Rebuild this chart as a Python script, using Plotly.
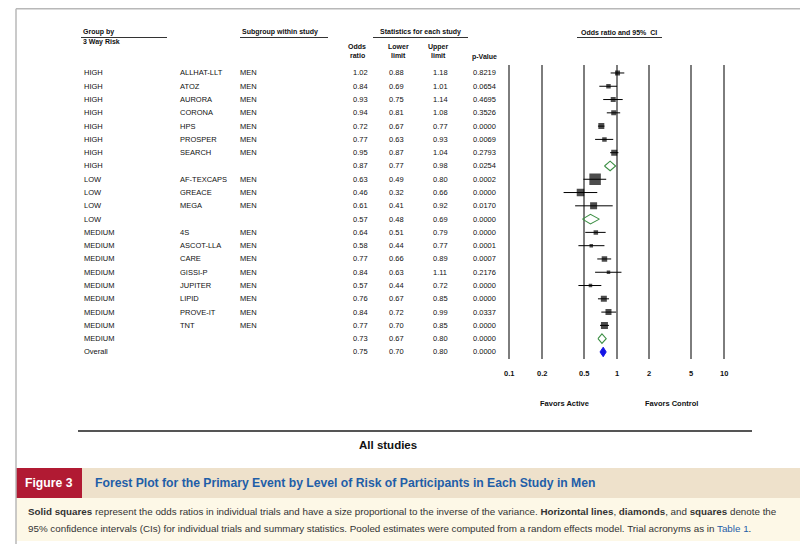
import numpy as np
import plotly.graph_objects as go

# ---------------- data ----------------
groups = ["HIGH"] * 8 + ["LOW"] * 4 + ["MEDIUM"] * 9 + ["Overall"]
studies = ["ALLHAT-LLT", "ATOZ", "AURORA", "CORONA", "HPS", "PROSPER", "SEARCH", "",
           "AF-TEXCAPS", "GREACE", "MEGA", "",
           "4S", "ASCOT-LLA", "CARE", "GISSI-P", "JUPITER", "LIPID", "PROVE-IT", "TNT", "",
           ""]
subgroups = ["MEN" if s else "" for s in studies]
odds_ratio = [1.02, 0.84, 0.93, 0.94, 0.72, 0.77, 0.95, 0.87,
              0.63, 0.46, 0.61, 0.57,
              0.64, 0.58, 0.77, 0.84, 0.57, 0.76, 0.84, 0.77, 0.73,
              0.75]
lower_limit = [0.88, 0.69, 0.75, 0.81, 0.67, 0.63, 0.87, 0.77,
               0.49, 0.32, 0.41, 0.48,
               0.51, 0.44, 0.66, 0.63, 0.44, 0.67, 0.72, 0.70, 0.67,
               0.70]
upper_limit = [1.18, 1.01, 1.14, 1.08, 0.77, 0.93, 1.04, 0.98,
               0.80, 0.66, 0.92, 0.69,
               0.79, 0.77, 0.89, 1.11, 0.72, 0.85, 0.99, 0.85, 0.80,
               0.80]
p_values = ["0.8219", "0.0654", "0.4695", "0.3526", "0.0000", "0.0069", "0.2793", "0.0254",
            "0.0002", "0.0000", "0.0170", "0.0000",
            "0.0000", "0.0001", "0.0007", "0.2176", "0.0000", "0.0000", "0.0337", "0.0000", "0.0000",
            "0.0000"]
row_kind = (["study"] * 7 + ["summary"] + ["study"] * 3 + ["summary"]
            + ["study"] * 8 + ["summary"] + ["overall"])
axis_ticks = [0.1, 0.2, 0.5, 1, 2, 5, 10]
axis_tick_labels = ["0.1", "0.2", "0.5", "1", "2", "5", "10"]

# ---------------- style ----------------
square_px_by_study = {
    "ALLHAT-LLT": 5, "ATOZ": 4.5, "AURORA": 5, "CORONA": 5, "HPS": 6, "PROSPER": 4.5,
    "SEARCH": 6, "AF-TEXCAPS": 11.5, "GREACE": 7.5, "MEGA": 7, "4S": 4.5, "ASCOT-LLA": 3.5,
    "CARE": 5.5, "GISSI-P": 3.5, "JUPITER": 3.5, "LIPID": 6, "PROVE-IT": 6, "TNT": 7,
}
OFF = 8                      # page body margin
W, H = 808 - OFF, 544 - OFF  # figure size
FONT = "Liberation Sans, Arial, sans-serif"


def fx(x):
    """reference pixel x -> paper"""
    return (x - OFF) / W


def fy(y):
    """reference pixel y -> paper"""
    return 1 - (y - OFF) / H


n = len(odds_ratio)
rows = list(range(n))

fig = go.Figure()

# CI lines for individual studies
ci_x, ci_y = [], []
for i in rows:
    if row_kind[i] == "study":
        ci_x += [lower_limit[i], upper_limit[i], None]
        ci_y += [i, i, None]
fig.add_trace(go.Scatter(x=ci_x, y=ci_y, mode="lines",
                         line=dict(color="black", width=1), hoverinfo="skip"))

# squares
sq_idx = [i for i in rows if row_kind[i] == "study"]
fig.add_trace(go.Scatter(
    x=[odds_ratio[i] for i in sq_idx], y=sq_idx, mode="markers",
    marker=dict(symbol="square", color="black",
                size=[square_px_by_study[studies[i]] for i in sq_idx],
                line=dict(width=0)),
    text=[studies[i] for i in sq_idx]))

# diamonds
half_h = 0.36
for i in rows:
    if row_kind[i] in ("summary", "overall"):
        xs = [lower_limit[i], odds_ratio[i], upper_limit[i], odds_ratio[i], lower_limit[i]]
        ys = [i, i - half_h, i, i + half_h, i]
        if row_kind[i] == "summary":
            fig.add_trace(go.Scatter(x=xs, y=ys, mode="lines",
                                     line=dict(color="#3d8f45", width=1.1),
                                     hoverinfo="skip"))
        else:
            fig.add_trace(go.Scatter(x=xs, y=ys, mode="lines", fill="toself",
                                     fillcolor="#1414e6",
                                     line=dict(color="#1414e6", width=1),
                                     hoverinfo="skip"))

annotations = []


def text(x, y, s, size=7.5, anchor="left", color="#111", xref="paper", yref="paper", bold=False):
    if bold:
        s = "<b>" + s + "</b>"
    annotations.append(dict(x=x, y=y, xref=xref, yref=yref, text=s, showarrow=False,
                            xanchor=anchor, yanchor="middle",
                            font=dict(family=FONT, size=size, color=color)))


# table rows
for i in rows:
    text(fx(82), i, groups[i], yref="y")
    if studies[i]:
        text(fx(178), i, studies[i], yref="y")
        text(fx(238), i, subgroups[i], yref="y")
    text(fx(360), i, f"{odds_ratio[i]:.2f}", anchor="center", yref="y")
    text(fx(396), i, f"{lower_limit[i]:.2f}", anchor="center", yref="y")
    text(fx(440), i, f"{upper_limit[i]:.2f}", anchor="center", yref="y")
    text(fx(485), i, p_values[i], anchor="center", yref="y")

# headers
text(fx(81), fy(32), "Group by", size=7, bold=True)
text(fx(81), fy(42), "3 Way Risk", size=7, bold=True)
text(fx(240), fy(32), "Subgroup within study", size=7, bold=True)
text(fx(420), fy(32), "Statistics for each study", size=7, anchor="center", bold=True)
text(fx(619), fy(32), "Odds ratio and 95%  CI", size=7, anchor="center", bold=True)
text(fx(357), fy(47), "Odds", size=7, anchor="center", bold=True)
text(fx(357), fy(55), "ratio", size=7, anchor="center", bold=True)
text(fx(398), fy(47), "Lower", size=7, anchor="center", bold=True)
text(fx(398), fy(55), "limit", size=7, anchor="center", bold=True)
text(fx(438), fy(47), "Upper", size=7, anchor="center", bold=True)
text(fx(438), fy(55), "limit", size=7, anchor="center", bold=True)
text(fx(484), fy(57), "p-Value", size=7, anchor="center", bold=True)

# axis tick labels
for t, lab in zip(axis_ticks, axis_tick_labels):
    text(np.log10(t), fy(373), lab, size=7.5, anchor="center", xref="x", bold=True)

text(fx(564), fy(403), "Favors Active", size=7.5, anchor="center", bold=True)
text(fx(671), fy(403), "Favors Control", size=7.5, anchor="center", bold=True)
text(fx(388), fy(445), "All studies", size=11.5, anchor="center", bold=True)

# figure caption
text(fx(49), fy(483), "Figure 3", size=12.2, anchor="center", color="white", bold=True)
text(fx(93), fy(483),
     "Forest Plot for the Primary Event by Level of Risk of Participants in Each Study in Men",
     size=12.2, color="#1f5ea8", bold=True)
text(fx(26), fy(511),
     "<b>Solid squares</b> represent the odds ratios in individual trials and have a size "
     "proportional to the inverse of the variance. <b>Horizontal lines</b>, <b>diamonds</b>, "
     "and <b>squares</b> denote the", size=9.8, color="#333")
text(fx(26), fy(528),
     "95% confidence intervals (CIs) for individual trials and summary statistics. Pooled "
     "estimates were computed from a random effects model. Trial acronyms as in "
     "<span style='color:#1f5ea8'>Table 1</span>.", size=9.8, color="#333")

shapes = []


def line(x0, y0, x1, y1, color="#333", width=1):
    shapes.append(dict(type="line", xref="paper", yref="paper",
                       x0=fx(x0), y0=fy(y0), x1=fx(x1), y1=fy(y1),
                       line=dict(color=color, width=width)))


def rect(x0, y0, x1, y1, fill):
    shapes.append(dict(type="rect", xref="paper", yref="paper", layer="below",
                       x0=fx(x0), y0=fy(y0), x1=fx(x1), y1=fy(y1),
                       fillcolor=fill, line=dict(width=0)))


rect(16, 468, 812, 498, "#eee1cb")
rect(16, 468, 82, 498, "#b11a33")
rect(16, 498, 812, 541, "#fdf8e7")
line(16, 8.8, 812, 8.8, color="#b8b8b8", width=1.5)
line(16, 8.8, 16, 548, color="#b8b8b8", width=1.5)
line(81, 37.5, 167, 37.5)
line(240, 37.5, 328, 37.5)
line(373, 37.5, 468, 37.5)
line(577, 37.5, 662, 37.5)
line(78, 431, 752, 431, color="#555", width=2)

pad = 0.02
x_left = 509.5 - pad * 107.1
x_right = 723.7 + pad * 107.1
fig.update_layout(
    width=W, height=H, autosize=False,
    margin=dict(l=0, r=0, t=0, b=0),
    paper_bgcolor="white", plot_bgcolor="white",
    showlegend=False,
    xaxis=dict(type="log", range=[-1 - pad, 1 + pad], domain=[fx(x_left), fx(x_right)],
               tickvals=axis_ticks, showticklabels=False, ticks="",
               showgrid=True, gridcolor="#7d7d7d", gridwidth=1.6,
               showline=False, zeroline=False, fixedrange=True),
    yaxis=dict(range=[21.53, -0.60], domain=[fy(359), fy(65)], visible=False,
               fixedrange=True),
    annotations=annotations, shapes=shapes,
)

fig.write_html("out.html")
